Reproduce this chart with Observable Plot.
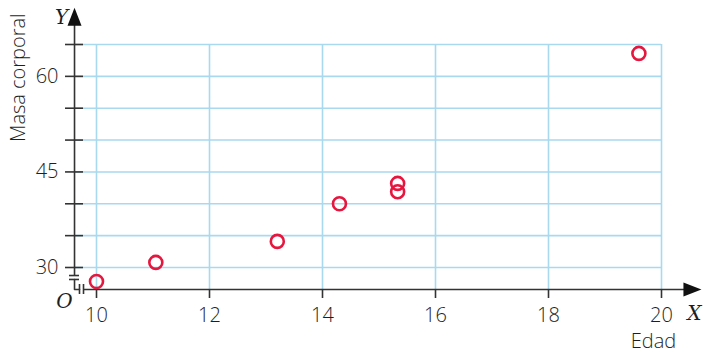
<!DOCTYPE html>
<html>
<head>
<meta charset="utf-8">
<script src="https://cdn.jsdelivr.net/npm/d3@7"></script>
<script src="https://cdn.jsdelivr.net/npm/@observablehq/plot@0.6"></script>
<style>
  html, body { margin: 0; padding: 0; background: #fff; }
</style>
</head>
<body>
<div id="chart"></div>
<script>
// Data
const edad = [10.0, 11.05, 13.2, 14.3, 15.33, 15.33, 19.6];
const masa = [27.8, 30.8, 34.1, 40.0, 43.2, 41.9, 63.6];
const xTicks = [10, 12, 14, 16, 18, 20];
const yTicks = [30, 35, 40, 45, 50, 55, 60, 65];
const yLabels = [30, 45, 60];
const xTitle = "Edad";
const yTitle = "Masa corporal";

// Axis positions (data units)
const AX = 9.611;   // y axis line position on x
const AY = 26.55;   // x axis line position on y
const Y_TOP = 69.2; // y arrow position
const X_END = 20.53; // x arrow position
const Y_BREAK_TOP = 28.74, Y_BREAK_BOT = 28.12;
const X_BREAK_L = 9.699, X_BREAK_R = 9.77;

const points = edad.map((e, i) => ({edad: e, masa: masa[i]}));

const axisCol = "#333333";
const textCol = "#1e1e1e";
const gridCol = "#a9d9ef";
const ptCol = "#e5173f";

const arrowSym = {
  draw(ctx, size) {
    ctx.moveTo(0, -10);
    ctx.lineTo(7, 8);
    ctx.lineTo(-7, 8);
    ctx.closePath();
  }
};

const chart = Plot.plot({
  width: 703,
  height: 354,
  marginLeft: 96,
  marginRight: 42,
  marginTop: 44,
  marginBottom: 87,
  x: {domain: [10, 20], range: [96, 661], axis: null},
  y: {domain: [30, 65], range: [267, 44], axis: null},
  style: {fontFamily: "'Open Sans', sans-serif", fontSize: "20px", fontWeight: 300, background: "#fff", overflow: "visible"},
  marks: [
    // grid
    Plot.ruleY(yTicks, {y: d => d, x1: AX, x2: 20, stroke: gridCol, strokeWidth: 1.6}),
    Plot.ruleX(xTicks, {x: d => d, y1: AY, y2: 65, stroke: gridCol, strokeWidth: 1.6}),
    // y axis line
    Plot.ruleX([AX], {x: d => d, y1: Y_BREAK_TOP, y2: Y_TOP, stroke: axisCol, strokeWidth: 1.6}),
    // y ticks
    Plot.ruleY(yTicks, {y: d => d, x1: AX, x2: AX, stroke: axisCol, strokeWidth: 1.6, insetLeft: -9, insetRight: -9}),
    // break marks on y
    Plot.ruleY([Y_BREAK_TOP, Y_BREAK_BOT], {y: d => d, x1: AX, x2: AX, insetLeft: -5, insetRight: -5, stroke: axisCol, strokeWidth: 1.6}),
    Plot.line([{x: AX, y: Y_BREAK_BOT}, {x: AX, y: AY}, {x: X_BREAK_L, y: AY}], {x: "x", y: "y", stroke: axisCol, strokeWidth: 1.6}),
    // break marks on x
    Plot.ruleX([X_BREAK_L, X_BREAK_R], {x: d => d, y1: AY, y2: AY, insetTop: -5, insetBottom: -5, stroke: axisCol, strokeWidth: 1.6}),
    // x axis line
    Plot.ruleY([AY], {y: d => d, x1: X_BREAK_R, x2: X_END, stroke: axisCol, strokeWidth: 1.6}),
    // x ticks (below axis)
    Plot.ruleX(xTicks, {x: d => d, y1: AY, y2: AY, insetTop: 0, insetBottom: -9, stroke: axisCol, strokeWidth: 1.6}),
    // arrowheads
    Plot.dot([{x: AX, y: Y_TOP}], {x: "x", y: "y", symbol: arrowSym, fill: "#111", stroke: null, r: 8}),
    Plot.dot([{x: X_END, y: AY}], {x: "x", y: "y", symbol: arrowSym, fill: "#111", stroke: null, r: 8, rotate: 90}),
    // tick labels
    Plot.text(xTicks, {x: d => d, y: AY, text: d => String(d), dy: 26, fill: textCol, textAnchor: "middle"}),
    Plot.text(yLabels, {x: AX, y: d => d, text: d => String(d), dx: -16, fill: textCol, textAnchor: "end"}),
    // axis titles
    Plot.text([xTitle], {x: 20, y: AY, text: d => d, dx: -8, dy: 52, fill: textCol, textAnchor: "middle"}),
    Plot.text([yTitle], {x: AX, y: 59.8, text: d => d, dx: -56, rotate: -90, fill: textCol, textAnchor: "middle"}),
    Plot.text(["Y"], {x: AX, y: Y_TOP, text: d => d, dx: -13, dy: 0, fill: textCol, fontFamily: "'DejaVu Serif', serif", fontStyle: "italic", fontWeight: 400, fontSize: 20, textAnchor: "middle"}),
    Plot.text(["X"], {x: X_END, y: AY, text: d => d, dx: 3, dy: 24, fill: textCol, fontFamily: "'DejaVu Serif', serif", fontStyle: "italic", fontWeight: 400, fontSize: 20, textAnchor: "middle"}),
    Plot.text(["O"], {x: AX, y: AY, text: d => d, dx: -10, dy: 12, fill: textCol, fontFamily: "'DejaVu Serif', serif", fontStyle: "italic", fontWeight: 400, fontSize: 20, textAnchor: "middle"}),
    // points
    Plot.dot(points, {x: "edad", y: "masa", r: 6.5, stroke: ptCol, strokeWidth: 2.6, fill: "none"})
  ]
});
document.getElementById("chart").appendChild(chart);
</script>
</body>
</html>
